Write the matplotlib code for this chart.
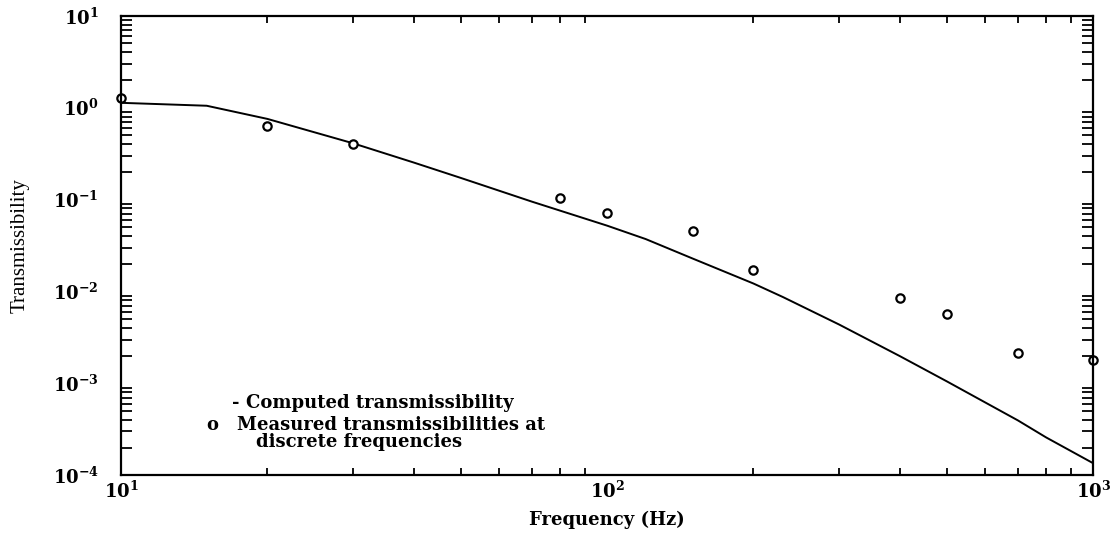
import numpy as np
import matplotlib.pyplot as plt
from matplotlib.ticker import LogLocator, FixedLocator, FixedFormatter

plt.rcParams['font.family'] = ['DejaVu Serif']
plt.rcParams['mathtext.fontset'] = 'dejavuserif'

# computed transmissibility curve
freq_calc = [10, 15, 20, 30, 40, 50, 70, 100, 120, 150, 200, 230, 300, 400, 500, 700, 800, 1000]
trans_calc = [1.13, 1.05, 0.755, 0.41, 0.253, 0.172, 0.095, 0.052, 0.0372, 0.0228,
              0.0122, 0.00869, 0.00437, 0.00198, 0.00105, 0.000395, 0.000258, 0.000135]

# measured points
freq_meas = [10, 20, 30, 80, 100, 150, 200, 400, 500, 700, 1000]
trans_meas = [1.28, 0.634, 0.403, 0.104, 0.0714, 0.0455, 0.0171, 0.00848, 0.00567, 0.00213, 0.00179]

xticks = [10, 100, 1000]
xticklabels = [r'$\mathbf{10^{1}}$', r'$\mathbf{10^{2}}$', r'$\mathbf{10^{3}}$']
yticks = [1e-4, 1e-3, 1e-2, 1e-1, 1, 10]
yticklabels = [r'$\mathbf{10^{-4}}$', r'$\mathbf{10^{-3}}$', r'$\mathbf{10^{-2}}$',
               r'$\mathbf{10^{-1}}$', r'$\mathbf{10^{0}}$', r'$\mathbf{10^{1}}$']

fig = plt.figure(figsize=(11.11, 5.45), dpi=100)
ax = fig.add_axes([0.109, 0.128, 0.875, 0.843])

ax.plot(freq_calc, trans_calc, color='black', lw=1.4)
ax.plot(freq_meas, trans_meas, 'o', mfc='white', mec='black', mew=1.6, ms=6, clip_on=False)

ax.set_xscale('log')
ax.set_yscale('log')
ax.set_xlim(10, 1000)
ax.set_ylim(1e-4, 10)

ax.xaxis.set_major_locator(FixedLocator(xticks))
ax.xaxis.set_major_formatter(FixedFormatter(xticklabels))
ax.yaxis.set_major_locator(FixedLocator(yticks))
ax.yaxis.set_major_formatter(FixedFormatter(yticklabels))
ax.xaxis.set_minor_locator(LogLocator(base=10, subs=np.arange(2, 10)))
ax.yaxis.set_minor_locator(LogLocator(base=10, subs=np.arange(2, 10)))
ax.xaxis.set_minor_formatter(FixedFormatter([]))
ax.yaxis.set_minor_formatter(FixedFormatter([]))

ax.tick_params(which='both', direction='in', top=True, right=True, width=1.3)
ax.tick_params(axis='x', which='major', length=0, pad=4, labelsize=13)
ax.tick_params(axis='y', which='major', length=0, pad=16, labelsize=13)
ax.tick_params(axis='x', which='minor', length=5)
ax.tick_params(axis='y', which='minor', length=8)
for s in ax.spines.values():
    s.set_linewidth(1.6)

ax.set_ylabel('Transmissibility', family='Liberation Serif', fontsize=15, labelpad=17)
ax.set_xlabel('Frequency (Hz)', fontsize=13, fontweight='bold', labelpad=6)

# key written inside the plot
key = dict(transform=ax.transAxes, fontsize=13, fontweight='bold', va='center')
ax.text(0.114, 0.158, '-', **key)
ax.text(0.128, 0.158, 'Computed transmissibility', **key)
ax.text(0.088, 0.110, 'o', **key)
ax.text(0.119, 0.110, 'Measured transmissibilities at', **key)
ax.text(0.139, 0.072, 'discrete frequencies', **key)

fig.savefig('out.png', dpi=100)
